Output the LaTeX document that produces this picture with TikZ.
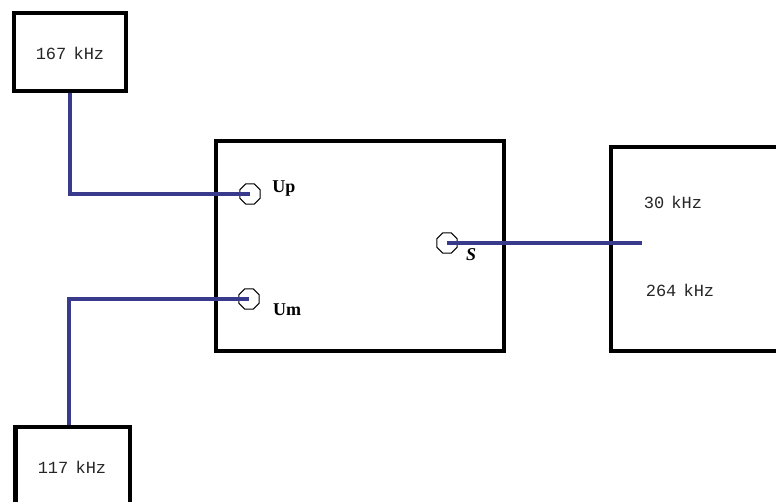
\documentclass[tikz,border=0pt]{standalone}
\usepackage{fontspec}
\setmainfont{Liberation Serif}
\newfontfamily\monof{Liberation Mono}
\usetikzlibrary{shapes.geometric}
\definecolor{wireblue}{RGB}{58,58,140}
\begin{document}
\begin{tikzpicture}[x=1pt,y=-1pt,
  box/.style={draw=black, line width=4.5pt, rectangle, inner sep=0pt},
  wire/.style={draw=wireblue, line width=4pt},
  port/.style={regular polygon, regular polygon sides=8, draw=black, line width=1.1pt, minimum size=22pt, inner sep=0pt},
  freq/.style={font=\monof\fontsize{17}{17}\selectfont, text=black!85},
  plabel/.style={font=\bfseries\fontsize{18}{18}\selectfont}]
\useasboundingbox (0,0) rectangle (776,502);
\clip (0,0) rectangle (776,502);
% boxes
\node[box, minimum width=112pt, minimum height=78pt] (f167) at (70,52) {};
\node[box, minimum width=288pt, minimum height=210pt] (main) at (360,246) {};
\node[box, minimum width=179pt, minimum height=204pt] (right) at (700.5,249) {};
\node[box, minimum width=114.5pt, minimum height=113pt] (f117) at (72.75,483.5) {};
% texts
\node[freq] (t167) at (70,53) {167\hspace{-3pt} kHz};
\node[freq] (t117) at (72,467) {117\hspace{-3pt} kHz};
\node[freq] (t30) at (673,202) {30\hspace{-3pt} kHz};
\node[freq] (t264) at (680,290) {264\hspace{-3pt} kHz};
% ports
\node[port] (up) at (250,194) {};
\node[port] (um) at (249,299) {};
\node[port] (s) at (447,243) {};
\node[plabel] (lup) at (284,189) {Up};
\node[plabel] (lum) at (287,310) {Um};
\node[plabel, font=\bfseries\itshape\fontsize{18}{18}\selectfont] (ls) at (471,255) {S};
% wires
\coordinate (send) at (642,243);
\draw[wire] (f167.south) |- (up.center);
\draw[wire] ([xshift=-3.75pt]f117.north) |- (um.center);
\draw[wire] (s.center) -- (send);
\end{tikzpicture}
\end{document}
